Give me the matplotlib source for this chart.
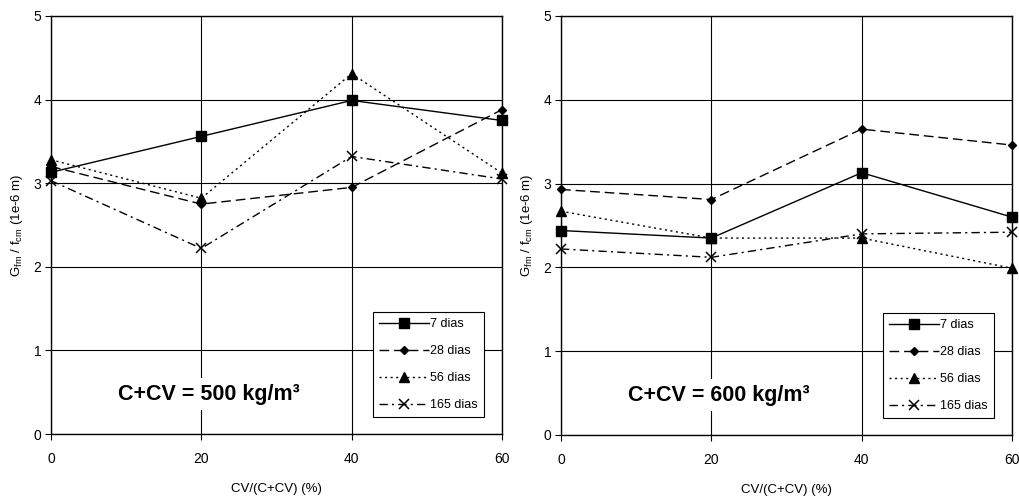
import matplotlib
matplotlib.use("Agg")
import matplotlib.pyplot as plt

plt.rcParams['font.family'] = ['Liberation Sans', 'DejaVu Sans']
plt.rcParams['mathtext.fontset'] = 'custom'
plt.rcParams['mathtext.rm'] = 'Liberation Sans'
plt.rcParams['mathtext.it'] = 'Liberation Sans:italic'
plt.rcParams['mathtext.bf'] = 'Liberation Sans:bold'

x_vals = [0, 20, 40, 60]
labels = ['7 dias', '28 dias', '56 dias', '165 dias']

# Panel 1: C+CV = 500 kg/m3
p500_7 = [3.13, 3.56, 3.99, 3.75]
p500_28 = [3.20, 2.75, 2.95, 3.88]
p500_56 = [3.28, 2.82, 4.31, 3.12]
p500_165 = [3.03, 2.22, 3.32, 3.05]

# Panel 2: C+CV = 600 kg/m3
p600_7 = [2.44, 2.35, 3.13, 2.60]
p600_28 = [2.93, 2.81, 3.65, 3.46]
p600_56 = [2.67, 2.35, 2.35, 1.99]
p600_165 = [2.22, 2.12, 2.40, 2.42]

titles = ['C+CV = 500 kg/m³', 'C+CV = 600 kg/m³']

styles = [
    dict(linestyle='-', marker='s', markersize=7),
    dict(linestyle=(0, (7, 3.5)), marker='D', markersize=4.5),
    dict(linestyle=(0, (1.5, 2.5)), marker='^', markersize=6.5),
    dict(linestyle=(0, (6, 3, 1.5, 3)), marker='x', markersize=7, markeredgewidth=1.1),
]

fig = plt.figure(figsize=(10.2, 4.99), dpi=100)
W, H = 1020, 499
axes_px = [(51, 16, 502, 434), (561, 16, 1012, 435)]
data = [[p500_7, p500_28, p500_56, p500_165], [p600_7, p600_28, p600_56, p600_165]]

for (l, t, r, b), series, title in zip(axes_px, data, titles):
    ax = fig.add_axes([l / W, 1 - b / H, (r - l) / W, (b - t) / H])
    for y, lab, st in zip(series, labels, styles):
        ax.plot(x_vals, y, color='black', linewidth=1.0, label=lab, clip_on=False,
                markerfacecolor='black', markeredgecolor='black', **st)
    ax.set_xlim(0, 60)
    ax.set_ylim(0, 5)
    ax.set_xticks(x_vals)
    ax.set_yticks([0, 1, 2, 3, 4, 5])
    ax.grid(True, color='black', linewidth=0.8)
    ax.set_axisbelow(True)
    for s in ax.spines.values():
        s.set_linewidth(1.0)
    ax.tick_params(direction='out', length=4, width=0.8, labelsize=10, pad=9)
    ax.tick_params(axis='y', pad=3)
    ax.set_xlabel('CV/(C+CV) (%)', fontsize=9.5, labelpad=12)
    ax.set_ylabel(r'G$_{\mathrm{fm}}$ / f$_{\mathrm{cm}}$ (1e-6 m)', fontsize=9.5, labelpad=6)
    ax.text(0.35, 0.095, title, transform=ax.transAxes, ha='center', va='center',
            fontsize=15.5, fontweight='bold',
            bbox=dict(facecolor='white', edgecolor='none', pad=4), zorder=5)
    leg = ax.legend(loc='lower right', bbox_to_anchor=(0.96, 0.04), fontsize=9,
                    frameon=True, fancybox=False, edgecolor='black', framealpha=1,
                    handlelength=4.0, labelspacing=1.2, handletextpad=0.1,
                    borderpad=0.5, borderaxespad=0)
    leg.get_frame().set_linewidth(0.8)

fig.savefig('out.png', dpi=100)
